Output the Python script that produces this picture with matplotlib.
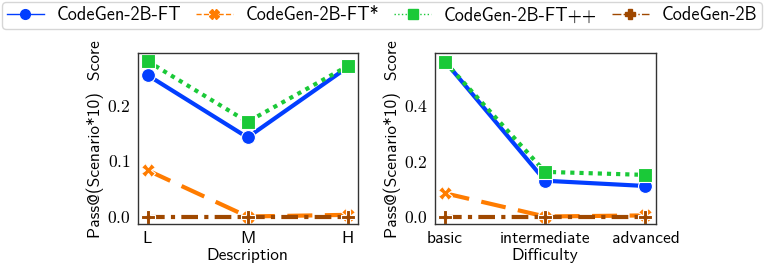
import matplotlib
matplotlib.use("Agg")
import matplotlib.pyplot as plt
from matplotlib.lines import Line2D
from matplotlib.ticker import FuncFormatter

# data
models = ["CodeGen-2B-FT", "CodeGen-2B-FT*", "CodeGen-2B-FT++", "CodeGen-2B"]

desc_levels = ["L", "M", "H"]
desc_ft = [0.254, 0.142, 0.268]
desc_ft_star = [0.083, 0.0, 0.003]
desc_ft_pp = [0.279, 0.170, 0.270]
desc_base = [0.0, 0.0, 0.0]

diff_levels = ["basic", "intermediate", "advanced"]
diff_ft = [0.560, 0.129, 0.110]
diff_ft_star = [0.084, 0.0, 0.004]
diff_ft_pp = [0.558, 0.161, 0.150]
diff_base = [0.0, 0.0, 0.0]

colors = ["#023eff", "#ff7c00", "#1ac938", "#9f4800"]
markers = ["o", "X", "s", "P"]
styles = ["-", (0, (6, 3)), (0, (1, 1.2)), (0, (4, 1.5, 1, 1.5))]

plt.rcParams["font.family"] = ["Latin Modern Sans", "DejaVu Sans"]
plt.rcParams["mathtext.fontset"] = "cm"
plt.rcParams["font.size"] = 12.6

fig = plt.figure(figsize=(7.64, 2.67), dpi=100)
ax1 = fig.add_axes([0.180, 0.160, 0.288, 0.640])
ax2 = fig.add_axes([0.569, 0.160, 0.289, 0.640])

fmt = FuncFormatter(lambda v, p: "$%.1f$" % v)


def draw(ax, levels, series, xlabel):
    x = list(range(len(levels)))
    for vals, c, m, ls in zip(series, colors, markers, styles):
        ax.plot(x, vals, color=c, marker=m, linestyle=ls, linewidth=3,
                markersize=10, markeredgecolor="white", markeredgewidth=0.8)
    ax.set_xticks(x)
    ax.set_xticklabels(levels)
    ax.yaxis.set_major_formatter(fmt)
    ax.set_xlabel(xlabel, labelpad=1)
    ax.set_ylabel("Pass@(Scenario*10)  Score", labelpad=2)
    for s in ax.spines.values():
        s.set_color("#333333")
        s.set_linewidth(1.0)
    ax.tick_params(length=0, pad=5)


draw(ax1, desc_levels, [desc_ft, desc_ft_star, desc_ft_pp, desc_base], "Description")
draw(ax2, diff_levels, [diff_ft, diff_ft_star, diff_ft_pp, diff_base], "Difficulty")
ax1.set_yticks([0.0, 0.1, 0.2])
ax2.set_yticks([0.0, 0.2, 0.4])

handles = [Line2D([], [], color=c, marker=m, linestyle=ls, linewidth=1, markersize=7)
           for c, m, ls in zip(colors, markers, ["-", "--", ":", "-."])]
fig.legend(handles, models, loc="upper left", ncol=4, mode="expand",
           bbox_to_anchor=(0.003, 0.0, 0.994, 0.993), borderaxespad=0,
           frameon=True, edgecolor="#cccccc", fontsize=13.2,
           handlelength=2.0, borderpad=0.25, handletextpad=0.7,
           columnspacing=1.0)

fig.savefig("out.png", dpi=100)
